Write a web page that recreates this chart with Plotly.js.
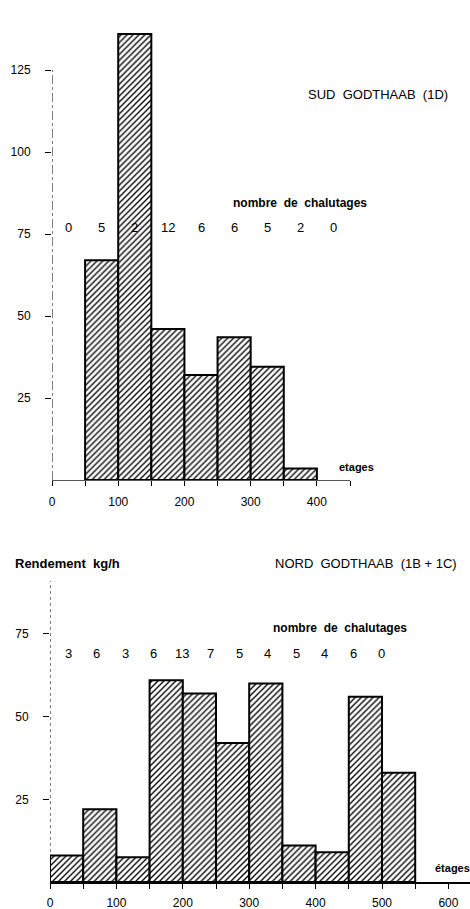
<!DOCTYPE html>
<html>
<head>
<meta charset="utf-8">
<script src="https://cdn.plot.ly/plotly-3.0.1.min.js"></script>
<style>html,body{margin:0;padding:0;background:#fff}#chart{width:470px;height:909px}</style>
</head>
<body>
<div id="chart"></div>
<script>
// ---- DATA ----
// Sud Godthaab (1D)
const sudBinStarts = [50, 100, 150, 200, 250, 300, 350];
const sudRendement = [67, 136, 46, 32, 43.5, 34.5, 3.5];
const sudCountCenters = [25, 75, 125, 175, 225, 275, 325, 375, 425];
const sudCounts = ['0', '5', '2', '12', '6', '6', '5', '2', '0'];
const sudXTicks = [0, 50, 100, 150, 200, 250, 300, 350, 400, 450];
const sudXTickText = ['0', '', '100', '', '200', '', '300', '', '400', ''];
const sudYTicks = [25, 50, 75, 100, 125];

// Nord Godthaab (1B + 1C)
const nordBinStarts = [0, 50, 100, 150, 200, 250, 300, 350, 400, 450, 500];
const nordRendement = [8, 22, 7.5, 61, 57, 42, 60, 11, 9, 56, 33];
const nordCounts = ['3', '6', '3', '6', '13', '7', '5', '4', '5', '4', '6', '0'];
const nordXTicks = [0, 50, 100, 150, 200, 250, 300, 350, 400, 450, 500, 550, 600];
const nordXTickText = ['0', '', '100', '', '200', '', '300', '', '400', '', '500', '', '600'];
const nordYTicks = [25, 50, 75];

// ---- LAYOUT HELPERS ----
const W = 470, H = 909;
const px = x => x / W;
const py = y => 1 - y / H;
const FONT = 'Liberation Sans, Arial, sans-serif';

const pattern = {shape: '/', fgcolor: '#000', bgcolor: '#fff', size: 4.2, solidity: 0.32, fillmode: 'replace'};

const traces = [
  {
    type: 'bar', x: sudBinStarts.map(s => s + 25), y: sudRendement, width: 50,
    xaxis: 'x', yaxis: 'y',
    marker: {color: '#fff', pattern: pattern, line: {color: '#000', width: 2}},
    hoverinfo: 'x+y'
  },
  {
    type: 'bar', x: nordBinStarts.map(s => s + 25), y: nordRendement, width: 50,
    xaxis: 'x2', yaxis: 'y2',
    marker: {color: '#fff', pattern: pattern, line: {color: '#000', width: 2}},
    hoverinfo: 'x+y'
  }
];

const annotations = [];
function txt(text, x, y, size, opts) {
  annotations.push(Object.assign({
    text: text, x: x, y: y, xref: 'paper', yref: 'paper', showarrow: false,
    font: {family: FONT, size: size, color: '#000'}, xanchor: 'center', yanchor: 'middle'
  }, opts || {}));
}
const bold = s => ({family: FONT, size: s, color: '#000', weight: 'bold'});
txt('SUD  GODTHAAB  (1D)', px(378), py(95), 13);
txt('nombre  de  chalutages', px(300), py(203), 12, {font: bold(12)});
sudCounts.forEach((c, i) => {
  annotations.push({text: c, x: sudCountCenters[i], y: py(228), xref: 'x', yref: 'paper', showarrow: false,
    font: {family: FONT, size: 13, color: '#000'}, xanchor: 'center', yanchor: 'middle'});
});
txt('etages', px(356), py(467), 11, {font: bold(11)});

txt('Rendement  kg/h', px(13), py(563), 13, {xanchor: 'left', font: bold(13)});
txt('NORD  GODTHAAB  (1B + 1C)', px(366), py(563), 13);
txt('nombre  de  chalutages', px(340), py(628), 12, {font: bold(12)});
nordCounts.forEach((c, i) => {
  txt(c, px(68 + i * 28.5), py(653), 13);
});
txt('étages', px(433), py(868), 11, {xanchor: 'left', font: bold(11)});

const shapes = [
  {type: 'line', xref: 'x', yref: 'y', x0: 0, x1: 0, y0: 0, y1: 125, line: {color: '#000', width: 1, dash: 'dashdot'}},
  {type: 'line', xref: 'x2', yref: 'y2', x0: 0, x1: 0, y0: 0, y1: 91, line: {color: '#000', width: 1, dash: 'dot'}}
];

const axisFont = {family: FONT, size: 12, color: '#000'};
const layout = {
  width: W, height: H,
  margin: {l: 0, r: 0, t: 0, b: 0},
  paper_bgcolor: '#fff', plot_bgcolor: 'rgba(0,0,0,0)',
  showlegend: false, bargap: 0,
  xaxis: {
    domain: [px(52), px(350)], range: [0, 450], anchor: 'y',
    tickvals: sudXTicks, ticktext: sudXTickText, ticks: 'outside', ticklen: 5, tickcolor: '#000',
    ticklabelstandoff: 6,
    showline: true, linecolor: '#555', linewidth: 1, showgrid: false, zeroline: false,
    tickfont: axisFont, fixedrange: true
  },
  yaxis: {
    domain: [py(480), py(480 - 140 * 3.28)], range: [0, 140], anchor: 'x',
    tickvals: sudYTicks, ticks: 'outside', ticklen: 6, tickcolor: '#000', ticklabelstandoff: 12,
    showline: false, showgrid: false, zeroline: false, tickfont: axisFont, fixedrange: true
  },
  xaxis2: {
    domain: [px(50), 1], range: [0, 420 / 0.664], anchor: 'y2',
    tickvals: nordXTicks, ticktext: nordXTickText, ticks: 'outside', ticklen: 5, tickcolor: '#000',
    ticklabelstandoff: 4,
    showline: true, linecolor: '#000', linewidth: 1.5, showgrid: false, zeroline: false,
    tickfont: axisFont, fixedrange: true
  },
  yaxis2: {
    domain: [py(882), py(581)], range: [0, 91], anchor: 'x2',
    tickvals: nordYTicks, ticks: 'outside', ticklen: 6, tickcolor: '#000', ticklabelstandoff: 12,
    showline: false, showgrid: false, zeroline: false, tickfont: axisFont, fixedrange: true
  },
  annotations: annotations,
  shapes: shapes
};

Plotly.newPlot('chart', traces, layout, {displayModeBar: false, staticPlot: true});
</script>
</body>
</html>
